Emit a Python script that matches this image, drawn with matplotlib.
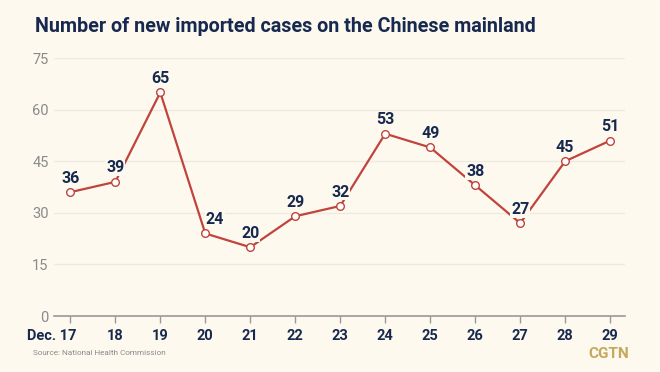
import matplotlib
matplotlib.use('Agg')
import matplotlib.pyplot as plt
import matplotlib.transforms as mtransforms

days = ['Dec. 17', '18', '19', '20', '21', '22', '23', '24', '25', '26', '27', '28', '29']
cases = [36, 39, 65, 24, 20, 29, 32, 53, 49, 38, 27, 45, 51]
yticks = [0, 15, 30, 45, 60, 75]

BG = '#FDF9EF'
NAVY = '#17294F'
RED = '#C0443C'
GREY = '#8A8A8A'

plt.rcParams['font.family'] = ['Roboto', 'DejaVu Sans']

fig = plt.figure(figsize=(6.6, 3.72), dpi=100, facecolor=BG)
ax = fig.add_axes([0.082, 0.1505, 0.865, 0.6935], facecolor=BG)

x = list(range(len(days)))
ax.plot(x, cases, color=RED, lw=1.6, zorder=3,
        marker='o', ms=5.5, mfc='white', mec=RED, mew=1.0)

# value labels, with a small nudge for the one sitting on the line
nudge = {3: 7}
for i, v in enumerate(cases):
    ax.annotate(str(v), (i, v), xytext=(nudge.get(i, 0), 10), textcoords='offset points',
                ha='center', va='center', fontsize=11.5, fontweight='bold', color=NAVY,
                zorder=5, bbox=dict(boxstyle='square,pad=0.05', fc=BG, ec='none'))

ax.set_xlim(-0.36, 12.33)
ax.set_ylim(0, 75)
ax.set_yticks(yticks)
ax.set_xticks(x)
ax.set_xticklabels(days, fontsize=10.5, fontweight='bold', color=NAVY)
ax.tick_params(axis='y', length=0, labelsize=10.5, labelcolor=GREY, pad=4)
ax.tick_params(axis='x', length=5, width=1, color='#9A9A9A', pad=4)
ax.grid(axis='y', color='#EEEADF', lw=1, zorder=0)
for s in ['top', 'right', 'left']:
    ax.spines[s].set_visible(False)
ax.spines['bottom'].set_color('#9A9A9A')
ax.spines['bottom'].set_linewidth(1.2)

# first label: keep the day number under its tick
first = ax.get_xticklabels()[0]
first.set_ha('right')
first.set_transform(first.get_transform() + mtransforms.ScaledTranslation(6 / 100, 0, fig.dpi_scale_trans))

fig.text(0.053, 0.93, 'Number of new imported cases on the Chinese mainland',
         fontsize=14.2, fontweight='bold', color=NAVY, va='center', ha='left')
fig.text(0.05, 0.052, 'Source: National Health Commission', fontsize=5.9, color=GREY, va='center')
fig.text(0.953, 0.048, 'CGTN', fontsize=11, fontweight='bold', color='#C3A95C', va='center', ha='right')

fig.savefig('out.png', dpi=100, facecolor=BG)
